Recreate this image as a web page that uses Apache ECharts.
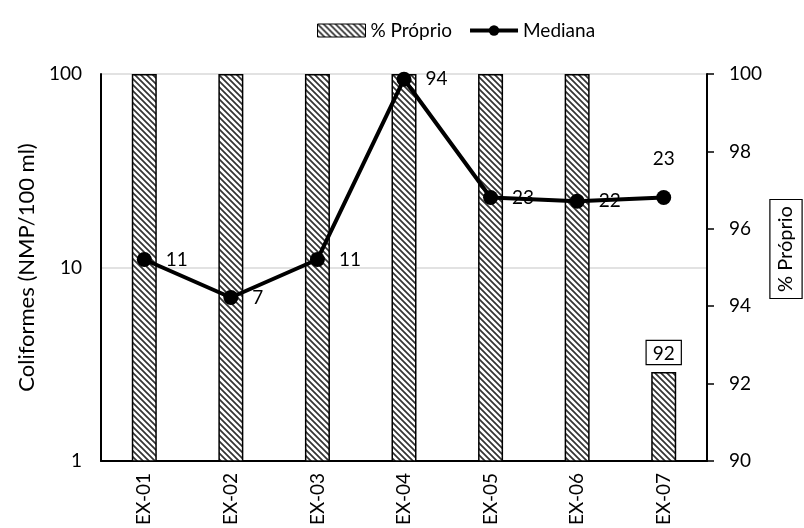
<!DOCTYPE html>
<html>
<head>
<meta charset="utf-8">
<script src="https://cdn.jsdelivr.net/npm/echarts@6/dist/echarts.min.js"></script>
<style>html,body{margin:0;padding:0;background:#fff;}#c{width:804px;height:528px;}</style>
</head>
<body>
<div id="c"></div>
<script>
const categories = ['EX-01','EX-02','EX-03','EX-04','EX-05','EX-06','EX-07'];
const proprio = [100, 100, 100, 100, 100, 100, 92.3];
const mediana = [11, 7, 11, 94, 23, 22, 23];
const leftTicks = [1, 10, 100];
const rightTicks = [90, 92, 94, 96, 98, 100];

function hatch() {
  const s = 6;
  const cv = document.createElement('canvas');
  cv.width = s; cv.height = s;
  const g = cv.getContext('2d');
  g.fillStyle = '#fff'; g.fillRect(0,0,s,s);
  g.strokeStyle = '#333'; g.lineWidth = 1.7;
  g.beginPath();
  g.moveTo(-1,-1); g.lineTo(s+1,s+1);
  g.moveTo(-1,s-1); g.lineTo(1,s+1);
  g.moveTo(s-1,-1); g.lineTo(s+1,1);
  g.stroke();
  return cv;
}
const pat = {image: hatch(), repeat: 'repeat'};
const FONT = 'Lato';
const FS = 19;

const chart = echarts.init(document.getElementById('c'), null, {renderer: 'canvas'});
chart.setOption({
  animation: false,
  textStyle: {fontFamily: FONT, color: '#000'},
  legend: {
    top: 16, left: 312, itemWidth: 48, itemHeight: 13, itemGap: 16,
    textStyle: {fontSize: FS, fontFamily: FONT, color: '#000'},
    data: [
      {name: '% Próprio', icon: 'rect', itemStyle: {color: pat, borderColor: '#000', borderWidth: 1}},
      {name: 'Mediana', lineStyle: {width: 4, color: '#000'}, itemStyle: {color: '#000'}}
    ]
  },
  grid: {left: 101, right: 97, top: 74, bottom: 67},
  xAxis: {
    type: 'category', data: categories,
    axisLine: {lineStyle: {color: '#000', width: 2}},
    axisTick: {show: false},
    axisLabel: {rotate: 90, margin: 12, fontSize: FS, color: '#000', fontFamily: FONT}
  },
  yAxis: [
    {
      type: 'log', logBase: 10, min: leftTicks[0], max: leftTicks[leftTicks.length-1],
      name: 'Coliformes (NMP/100 ml)', nameLocation: 'middle', nameGap: 52,
      nameTextStyle: {fontSize: 22, color: '#000', fontFamily: FONT},
      axisLine: {show: true, lineStyle: {color: '#000', width: 2}},
      axisTick: {show: false},
      axisLabel: {fontSize: FS, color: '#000', margin: 19, fontFamily: FONT},
      splitLine: {show: true, lineStyle: {color: '#d9d9d9', width: 1.5}}
    },
    {
      type: 'value', min: rightTicks[0], max: rightTicks[rightTicks.length-1], interval: 2,
      position: 'right',
      axisLine: {show: true, lineStyle: {color: '#000', width: 2}},
      axisTick: {show: true, length: 7, lineStyle: {color: '#000', width: 1.5}},
      axisLabel: {fontSize: FS, color: '#000', margin: 22, fontFamily: FONT},
      splitLine: {show: false}
    }
  ],
  graphic: [{
    type: 'text', x: 786, y: 249, rotation: Math.PI / 2,
    style: {
      text: '% Próprio', font: '20px ' + FONT, fill: '#000',
      align: 'center', verticalAlign: 'middle',
      borderColor: '#000', borderWidth: 1.2, padding: [6, 6, 5, 6], backgroundColor: '#fff'
    }
  }],
  series: [
    {
      name: '% Próprio', type: 'bar', yAxisIndex: 1, barWidth: 25, z: 1,
      itemStyle: {color: pat, borderColor: '#000', borderWidth: 1.5},
      data: proprio.map((v, i) => i === proprio.length - 1 ? {
        value: v,
        label: {
          show: true, position: 'top', distance: 8, formatter: p => Math.round(p.value),
          fontSize: FS, color: '#000', fontFamily: FONT,
          borderColor: '#000', borderWidth: 1.2, backgroundColor: '#fff', padding: [3, 6, 1, 6]
        }
      } : v)
    },
    {
      name: 'Mediana', type: 'line', yAxisIndex: 0, z: 3,
      symbol: 'circle', symbolSize: 15,
      lineStyle: {color: '#000', width: 4},
      itemStyle: {color: '#000'},
      label: {show: true, position: 'right', distance: 14, fontSize: FS, color: '#000', fontFamily: FONT},
      data: mediana.map((v, i) => i === mediana.length - 1 ? {value: v, label: {position: 'top', distance: 22}} : v)
    }
  ]
});
</script>
</body>
</html>
